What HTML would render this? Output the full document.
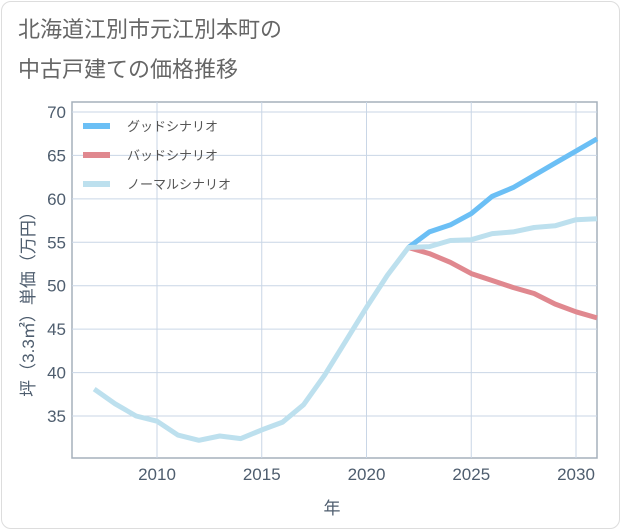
<!DOCTYPE html>
<html><head><meta charset="utf-8"><style>
body{margin:0;background:#fff;font-family:"Liberation Sans","Noto Sans CJK JP",sans-serif;}
.card{position:absolute;left:1px;top:1px;width:617px;height:526px;border:1px solid #ddd;border-radius:10px;}
</style></head><body>
<div class="card"></div>
<svg id="chart" width="621" height="530" style="position:absolute;left:0;top:0">
<text x="18" y="37" font-size="22" fill="#666">北海道江別市元江別本町の</text>
<text x="18" y="77" font-size="22" fill="#666">中古戸建ての価格推移</text>
<text transform="translate(34,300) rotate(-90)" text-anchor="middle" font-size="17" fill="#4e5d6e">坪（3.3㎡）単価（万円）</text>
<text x="332" y="514" text-anchor="middle" font-size="17" fill="#4e5d6e">年</text>
</svg>
<script>
const years=[2007,2008,2009,2010,2011,2012,2013,2014,2015,2016,2017,2018,2019,2020,2021,2022,2023,2024,2025,2026,2027,2028,2029,2030,2031];
const normal=[38.1,36.4,35.0,34.4,32.8,32.2,32.7,32.4,33.4,34.3,36.3,39.7,43.6,47.5,51.2,54.4,54.5,55.2,55.3,56.0,56.2,56.7,56.9,57.6,57.7];
const fYears=[2022,2023,2024,2025,2026,2027,2028,2029,2030,2031];
const good=[54.4,56.2,57.0,58.3,60.3,61.3,62.7,64.1,65.5,66.9];
const bad=[54.4,53.7,52.7,51.4,50.6,49.8,49.1,47.9,47.0,46.3];
const yTicks=[35,40,45,50,55,60,65,70];
const xTicks=[2010,2015,2020,2025,2030];
const L=72,R=597,T=102,B=458;
const xs=v=>157+(v-2010)*(576-157)/20;
const ys=v=>112+(70-v)*(416-112)/35;
const svg=document.getElementById('chart');
const NS='http://www.w3.org/2000/svg';
function mk(t,a){const e=document.createElementNS(NS,t);for(const k in a)e.setAttribute(k,a[k]);svg.appendChild(e);return e;}
const bg=mk('rect',{x:L,y:T,width:R-L,height:B-T,fill:'#fff',stroke:'#a5b0bc','stroke-width':1.5});


yTicks.forEach(v=>{
 const g=mk('line',{x1:L,x2:R,y1:ys(v),y2:ys(v),stroke:'#c9d6e6','stroke-width':1});
 
 
 const t=mk('text',{x:L-6,y:ys(v)+6,'text-anchor':'end','font-size':17,fill:'#4e5d6e'});
 t.textContent=v;
 
 
});
xTicks.forEach(v=>{
 const g=mk('line',{x1:xs(v),x2:xs(v),y1:T,y2:B,stroke:'#c9d6e6','stroke-width':1});
 
 
 const t=mk('text',{x:xs(v),y:B+22,'text-anchor':'middle','font-size':17,fill:'#4e5d6e'});
 t.textContent=v;
 
 
});
function line(xv,yv,color,name){
 const d=xv.map((x,i)=>(i?'L':'M')+xs(x).toFixed(1)+','+ys(yv[i]).toFixed(1)).join('');
 const p=mk('path',{d:d,fill:'none',stroke:color,'stroke-width':5,'stroke-linejoin':'round'});
 
 
}
line(fYears,good,'#6bbff5','good-scenario-line');
line(fYears,bad,'#e0888f','bad-scenario-line');
line(years,normal,'#bde0ee','normal-scenario-line');
const leg=[['グッドシナリオ','#6bbff5'],['バッドシナリオ','#e0888f'],['ノーマルシナリオ','#bde0ee']];
leg.forEach((e,i)=>{
 const y=126+i*29;
 const s=mk('line',{x1:83,x2:110,y1:y,y2:y,stroke:e[1],'stroke-width':6});
 
 
 const t=mk('text',{x:127,y:y+5,'font-size':13,fill:'#555'});
 t.textContent=e[0];
 
 
});
</script>
</body></html>
